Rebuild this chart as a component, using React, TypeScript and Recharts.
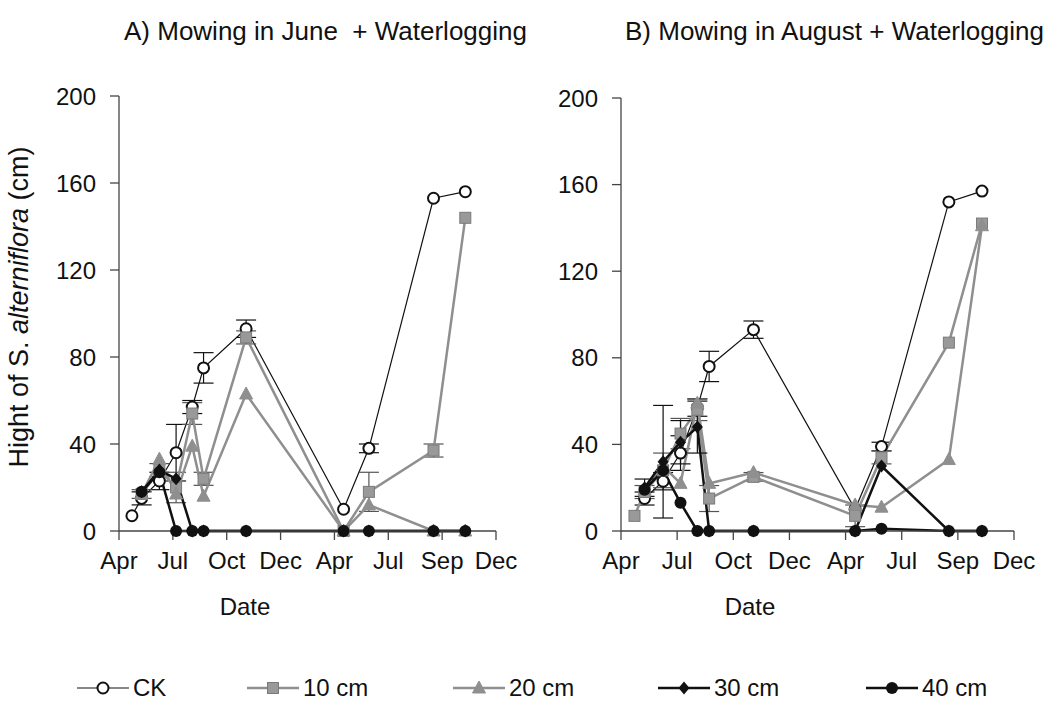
import React from "react";
import { LineChart, Line, XAxis, YAxis, ErrorBar } from "recharts";

// sampling dates, in axis units (0 = Apr of year 1 ... 7 = Dec of year 2)
const DATES = [0.24, 0.42, 0.75, 1.06, 1.36, 1.57, 2.36, 4.17, 4.64, 5.84, 6.43];
const MONTH_TICKS = ["Apr", "Jul", "Oct", "Dec", "Apr", "Jul", "Sep", "Dec"];
const Y_TICKS = [0, 40, 80, 120, 160, 200];

// A) mowing in June + waterlogging
const A_CK = [7, 15, 23, 36, 57, 75, 93, 10, 38, 153, 156];
const A_10 = [null, 17, 28, 20, 54, 24, 89, 0, 18, 37, 144];
const A_20 = [null, 17, 33, 17, 39, 16, 63, 0, 12, 0, 0];
const A_30 = [null, 18, 28, 24, 0, 0, 0, 0, 0, 0, 0];
const A_40 = [null, 18, 27, 0, 0, 0, 0, 0, 0, 0, 0];
const A_CK_ERR = [0, 3, 4, 13, 3, 7, 4, 0, 2, 0, 0];
const A_10_ERR = [0, 2, 3, 7, 5, 3, 3, 0, 9, 3, 0];

// B) mowing in August + waterlogging
const B_CK = [null, 15, 23, 36, 57, 76, 93, 10, 39, 152, 157];
const B_10 = [7, 18, 28, 45, 56, 15, 25, 7, 34, 87, 142];
const B_20 = [null, 19, 30, 22, 59, 22, 27, 12, 11, 33, 141];
const B_30 = [null, 20, 32, 41, 48, 0, 0, 0, 30, 0, 0];
const B_40 = [null, 19, 28, 13, 0, 0, 0, 0, 1, 0, 0];
const B_CK_ERR = [0, 3, 4, 8, 4, 7, 4, 0, 2, 0, 0];
const B_10_ERR = [0, 3, 8, 7, 5, 6, 2, 5, 3, 0, 0];
const B_30_ERR = [0, 4, 26, 10, 12, 0, 0, 0, 0, 0, 0];

const SERIES = ["CK", "10 cm", "20 cm", "30 cm", "40 cm"];

const FONT = "'Liberation Sans', Arial, sans-serif";
const GRAY = "#8f8f8f";
const DARK = "#111";

function buildRows(ck: any[], s10: any[], s20: any[], s30: any[], s40: any[], ckErr: number[], e10: number[], e30?: number[]) {
  return DATES.map((x, i) => ({
    x,
    ck: ck[i],
    s10: s10[i],
    s20: s20[i],
    s30: s30[i],
    s40: s40[i],
    ckErr: ckErr[i],
    e10: e10[i],
    e30: e30 ? e30[i] : 0,
  }));
}

const rowsA = buildRows(A_CK, A_10, A_20, A_30, A_40, A_CK_ERR, A_10_ERR);
const rowsB = buildRows(B_CK, B_10, B_20, B_30, B_40, B_CK_ERR, B_10_ERR, B_30_ERR);

type Shape = "openCircle" | "square" | "triangle" | "diamond" | "circle";

function Marker({ shape, cx, cy }: { shape: Shape; cx: number; cy: number }) {
  if (shape === "openCircle")
    return <circle cx={cx} cy={cy} r={5.5} fill="#fff" stroke={DARK} strokeWidth={2} />;
  if (shape === "square")
    return <rect x={cx - 5.5} y={cy - 5.5} width={11} height={11} fill="#999" stroke="#7a7a7a" strokeWidth={1} />;
  if (shape === "triangle")
    return <polygon points={`${cx},${cy - 7} ${cx + 6.5},${cy + 5} ${cx - 6.5},${cy + 5}`} fill={GRAY} stroke={GRAY} />;
  if (shape === "diamond")
    return <polygon points={`${cx},${cy - 6.5} ${cx + 5.5},${cy} ${cx},${cy + 6.5} ${cx - 5.5},${cy}`} fill={DARK} />;
  return <circle cx={cx} cy={cy} r={6} fill={DARK} />;
}

const dotFn = (shape: Shape) => (props: any) => {
  const { cx, cy, index, value } = props;
  if (cx == null || cy == null || value == null) return <g key={`d${index}`} />;
  return (
    <g key={`d${index}`}>
      <Marker shape={shape} cx={cx} cy={cy} />
    </g>
  );
};

const tickStyle = { fontFamily: FONT, fontSize: 24, fill: DARK };

function Panel({ rows, yLabel, dateX, top, width, right }: { rows: any[]; yLabel: boolean; dateX: number; top: number; width: number; right: number }) {
  return (
    <LineChart width={width} height={640} data={rows} margin={{ top, right, left: 59, bottom: 59 }}>
      <XAxis
        type="number"
        dataKey="x"
        domain={[0, 7]}
        ticks={[0, 1, 2, 3, 4, 5, 6, 7]}
        tickFormatter={(v: number) => MONTH_TICKS[v]}
        interval={0}
        height={50}
        tickSize={9}
        tickMargin={12}
        stroke="#444"
        strokeWidth={1.3}
        tick={tickStyle}
        label={{
          content: () => (
            <text x={dateX} y={615} textAnchor="middle" style={tickStyle}>
              Date
            </text>
          ),
        }}
      />
      <YAxis
        type="number"
        domain={[0, 200]}
        ticks={Y_TICKS}
        width={60}
        tickSize={9}
        tickMargin={14}
        stroke="#444"
        strokeWidth={1.3}
        tick={tickStyle}
        label={
          yLabel
            ? {
                content: () => (
                  <text
                    x={28}
                    y={307}
                    textAnchor="middle"
                    transform="rotate(-90 28 307)"
                    style={{ ...tickStyle, fontSize: 27 }}
                  >
                    Hight of S. <tspan fontStyle="italic">alterniflora</tspan> (cm)
                  </text>
                ),
              }
            : undefined
        }
      />
      <Line dataKey="ck" name="CK" stroke={DARK} strokeWidth={1.2} dot={dotFn("openCircle")} isAnimationActive={false}>
        <ErrorBar dataKey="ckErr" width={10} stroke={DARK} strokeWidth={1.2} direction="y" />
      </Line>
      <Line dataKey="s10" name="10 cm" stroke={GRAY} strokeWidth={2.5} dot={dotFn("square")} isAnimationActive={false}>
        <ErrorBar dataKey="e10" width={10} stroke="#555" strokeWidth={1.2} direction="y" />
      </Line>
      <Line dataKey="s20" name="20 cm" stroke={GRAY} strokeWidth={2.5} dot={dotFn("triangle")} isAnimationActive={false} />
      <Line dataKey="s30" name="30 cm" stroke={DARK} strokeWidth={2.5} dot={dotFn("diamond")} isAnimationActive={false}>
        <ErrorBar dataKey="e30" width={10} stroke={DARK} strokeWidth={1.2} direction="y" />
      </Line>
      <Line dataKey="s40" name="40 cm" stroke={DARK} strokeWidth={2.5} dot={dotFn("circle")} isAnimationActive={false} />
    </LineChart>
  );
}

const LEGEND_X = [77, 247, 453, 658, 866];
const LEGEND_SHAPES: Shape[] = ["openCircle", "square", "triangle", "diamond", "circle"];
const LEGEND_STROKE = [DARK, GRAY, GRAY, DARK, DARK];
const LEGEND_WIDTH = [1.2, 2.5, 2.5, 2.5, 2.5];

function Legend() {
  return (
    <>
      {SERIES.map((name, i) => (
        <div
          key={name}
          style={{ position: "absolute", left: LEGEND_X[i], top: 674, height: 28, display: "flex", alignItems: "center" }}
        >
          <svg width={52} height={28}>
            <line x1={0} y1={14} x2={52} y2={14} stroke={LEGEND_STROKE[i]} strokeWidth={LEGEND_WIDTH[i]} />
            <Marker shape={LEGEND_SHAPES[i]} cx={26} cy={14} />
          </svg>
          <span style={{ fontFamily: FONT, fontSize: 24, color: DARK, marginLeft: 4 }}>{name}</span>
        </div>
      ))}
    </>
  );
}

const titleStyle: React.CSSProperties = {
  position: "absolute",
  top: 16,
  fontFamily: FONT,
  fontSize: 26,
  color: DARK,
  whiteSpace: "pre",
};

export default function App() {
  return (
    <div style={{ position: "absolute", left: 0, top: 0, width: 1054, height: 717, background: "#fff", overflow: "hidden" }}>
      <div style={{ ...titleStyle, left: 124 }}>A) Mowing in June  + Waterlogging</div>
      <div style={{ ...titleStyle, left: 625 }}>B) Mowing in August + Waterlogging</div>
      <div style={{ position: "absolute", left: 0, top: 0 }}>
        <Panel rows={rowsA} yLabel={true} dateX={245} top={96} width={540} right={44} />
      </div>
      <div style={{ position: "absolute", left: 502, top: 0 }}>
        <Panel rows={rowsB} yLabel={false} dateX={248} top={98} width={552} right={40} />
      </div>
      <Legend />
    </div>
  );
}
